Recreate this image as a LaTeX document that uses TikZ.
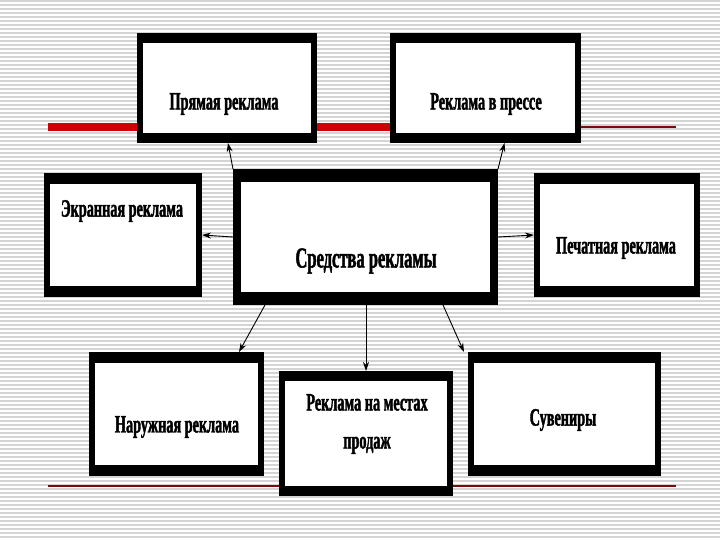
\documentclass[tikz,border=0pt]{standalone}
\usepackage{fontspec}
\setmainfont{Liberation Serif}
\newfontfamily\cond[FakeStretch=0.57,BoldFeatures={FakeBold=1.5}]{Liberation Serif}
\usetikzlibrary{arrows.meta,calc}
\definecolor{stripegray}{RGB}{212,212,212}
\definecolor{barred}{RGB}{210,0,0}
\definecolor{thinred}{RGB}{120,10,10}
\tikzset{
  frameouter/.style={fill=black, draw=none, inner sep=0pt, outer sep=0pt},
  frameinner/.style={fill=white, draw=none, inner sep=0pt, outer sep=0pt},
  lbl/.style={font=\cond\bfseries\fontsize{25}{38}\selectfont, align=center, inner sep=0pt},
  biglbl/.style={font=\cond\bfseries\fontsize{29}{32}\selectfont, align=center, inner sep=0pt},
  conn/.style={line width=0.9pt, -{Stealth[length=9pt,width=6pt]}},
  stripe/.style={stripegray, line width=1.4pt},
}
% name, cx, cy, w, h, side thickness, top/bottom thickness
\newcommand\mkbox[7]{%
  \node[frameouter, minimum width=#4pt, minimum height=#5pt] (#1) at (#2,#3) {};
  \node[frameinner, minimum width={#4pt-2*#6pt}, minimum height={#5pt-2*#7pt}] (#1in) at (#2,#3) {};
}
\begin{document}
\begin{tikzpicture}[x=1pt,y=-1pt]
  \useasboundingbox (0,0) rectangle (720,540);
  \fill[white] (0,0) rectangle (720,540);
  \foreach \yy in {1,5,...,540} \draw[stripe] (0,\yy) -- (720,\yy);
  % decorative lines
  \coordinate (rl1) at (48,127);
  \coordinate (rl2) at (137,127);
  \coordinate (rl3) at (317,127);
  \coordinate (rl4) at (390,127);
  \coordinate (tl1) at (581,127);
  \coordinate (tl2) at (676,127);
  \coordinate (bl1) at (48,486);
  \coordinate (bl2) at (676,486);
  \draw[barred, line width=8pt] (rl1) -- (rl2);
  \draw[barred, line width=8pt] (rl3) -- (rl4);
  \draw[thinred, line width=1.2pt] (tl1) -- (tl2);
  \draw[thinred, line width=1.2pt] (bl1) -- (bl2);
  % boxes
  \mkbox{p}{227}{88}{180}{110}{6}{10}
  \mkbox{pr}{485.5}{88}{191}{110}{6}{10}
  \mkbox{e}{123}{235}{158}{124}{6}{11}
  \mkbox{c}{365.5}{237}{265}{136}{8}{13}
  \mkbox{pe}{617}{235}{166}{124}{6}{11}
  \mkbox{n}{176.5}{414}{175}{124}{6}{11}
  \mkbox{m}{366}{433.5}{174}{125}{6}{10}
  \mkbox{s}{564.5}{414}{193}{124}{6}{11}
  % labels
  \node[lbl] (tp) at (224,104) {Прямая реклама};
  \node[lbl] (tpr) at (486,104) {Реклама в прессе};
  \node[lbl] (te) at (122,211) {Экранная реклама};
  \node[biglbl] (tc) at (366,261) {Средства рекламы};
  \node[lbl] (tpe) at (616,248) {Печатная реклама};
  \node[lbl] (tn) at (177,427) {Наружная реклама};
  \node[lbl] (tm) at (367,424) {Реклама на местах\\продаж};
  \node[lbl] (ts) at (563,420) {Сувениры};
  % connectors
  \draw[conn] (c.north west) -- ($(p.south)+(1,0)$);
  \draw[conn] (c.north east) -- ($(pr.south)+(19,0)$);
  \draw[conn] (c.west) -- (e.east);
  \draw[conn] (c.east) -- (pe.west);
  \draw[conn] ($(c.south west)+(32,0)$) -- ($(n.north east)+(-25,0)$);
  \draw[conn] (c.south -| m.north) -- (m.north);
  \draw[conn] ($(c.south east)+(-55,0)$) -- ($(s.north west)+(-4,0)$);
\end{tikzpicture}
\end{document}
